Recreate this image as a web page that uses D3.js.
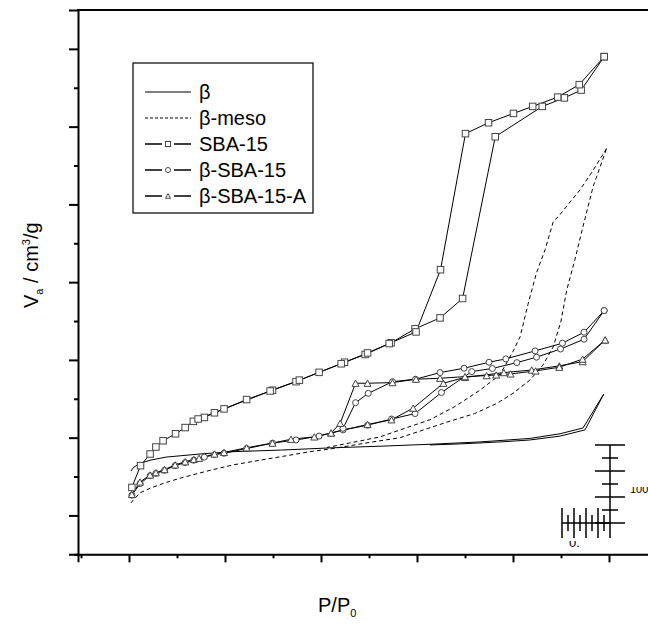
<!DOCTYPE html>
<html>
<head>
<meta charset="utf-8">
<title>Isotherms</title>
<style>
  body { margin: 0; background: #fff; }
  text { font-family: "Liberation Sans", Arial, sans-serif; fill: #000; }
</style>
</head>
<body>
<svg width="648" height="628"></svg>
<script src="https://cdn.jsdelivr.net/npm/d3@7"></script>
<script>
// P/P0 vs adsorbed volume: [P/P0, V]
const betaAds = [[0.004,57],[0.010,62],[0.023,67],[0.044,71],[0.077,75],[0.148,79],[0.217,82],[0.315,84],
  [0.425,87],[0.523,89],[0.627,91.5],[0.731,94.5],[0.835,99],[0.898,105],[0.946,112.5],[0.989,156]];
const betaDes = [[0.989,156],[0.950,110],[0.898,102],[0.835,97],[0.773,94.5],[0.690,92],[0.627,90.6]];

const mesoAds = [[0.004,16],[0.010,20.5],[0.023,29],[0.044,35],[0.075,42],[0.113,49],[0.169,58],[0.217,65],
  [0.273,71],[0.321,76],[0.377,82],[0.425,86],[0.492,93],[0.565,100],[0.6625,120],[0.72,131],[0.766,144],
  [0.80,157],[0.835,174],[0.862,193],[0.884,217],[0.90,250],[0.912,290],[0.929,329],[0.946,372],[0.967,423],[0.995,472]];
const mesoDes = [[0.995,472],[0.967,444],[0.940,419],[0.915,400],[0.894,384],[0.884,378],[0.867,342],[0.849,312],
  [0.831,271],[0.815,230],[0.80,211],[0.773,181],[0.731,161],[0.679,140],[0.627,123],[0.565,110],[0.523,101],
  [0.471,94.5],[0.4125,87.4]];

const sbaAds = [[0.006,36],[0.024,64],[0.044,79],[0.056,88],[0.071,96],[0.097,105],[0.117,113],[0.134,121],
  [0.157,126],[0.178,132],[0.198,137],[0.245,149],[0.299,161],[0.348,172],[0.396,184],[0.449,197],[0.492,207],
  [0.546,222],[0.596,240],[0.648,254],[0.695,279],[0.763,487],[0.861,526],[0.907,537],[0.942,547],[0.990,590]];
const sbaDes = [[0.990,590],[0.938,554],[0.893,538],[0.841,526],[0.801,517],[0.749,505],[0.701,491],[0.649,316],
  [0.598,236],[0.542,221],[0.497,209],[0.442,195],[0.355,174],[0.294,160],[0.144,124]];

const bsbaAds = [[0.006,26],[0.023,41],[0.044,51],[0.056,54],[0.074,58],[0.096,64],[0.117,68],[0.135,71],
  [0.157,75],[0.178,78],[0.198,80],[0.245,86],[0.299,93],[0.348,97],[0.396,102],[0.446,110],[0.497,116],
  [0.547,124],[0.596,131],[0.651,158],[0.714,185],[0.757,189],[0.808,196.5],[0.849,203.5],[0.899,214],
  [0.948,226.6],[0.990,263.4]];
const bsbaDes = [[0.990,263.4],[0.948,235.6],[0.903,221.5],[0.846,211.6],[0.785,201.3],[0.750,197],[0.698,189.3],
  [0.648,183.7],[0.597,175.2],[0.549,172],[0.4985,157],[0.472,145],[0.446,112]];

const bsbaAAds = [[0.006,27],[0.023,43],[0.044,52],[0.056,55],[0.074,59],[0.096,65],[0.117,69],[0.135,72],
  [0.146,73.5],[0.178,79],[0.198,81],[0.245,87],[0.299,93],[0.3375,98],[0.386,101],[0.421,106],[0.497,117],
  [0.547,123],[0.592,138],[0.655,170],[0.700,177.5],[0.781,183.7],[0.839,187],[0.8965,192.3],[0.945,197.8],[0.992,225.7]];
const bsbaADes = [[0.992,225.7],[0.945,201],[0.8965,190.6],[0.847,185.8],[0.795,182],[0.765,180.7],[0.745,179.8],
  [0.700,178.5],[0.648,176.4],[0.598,175.2],[0.549,170.8],[0.497,170],[0.472,170],[0.440,118.5],[0.421,106]];

const legendNames = ["\u03b2", "\u03b2-meso", "SBA-15", "\u03b2-SBA-15", "\u03b2-SBA-15-A"];
const xTitle = "P/P";
const yTitle = "V";

const svg = d3.select("svg");
const x = d3.scaleLinear().domain([-0.10625, 1.1]).range([78, 657]);
const y = d3.scaleLinear().domain([-50, 650]).range([554.3, 10]);

// axes
const gx = svg.append("g").attr("transform", `translate(0,${y(-50)})`);
gx.call(d3.axisBottom(x).tickValues(d3.range(0, 1.01, 0.2)).tickSize(8).tickFormat(""));
const gxm = svg.append("g").attr("transform", `translate(0,${y(-50)})`);
gxm.call(d3.axisBottom(x).tickValues(d3.range(-0.1, 1.0, 0.2)).tickSize(4).tickFormat(""));
const gy = svg.append("g").attr("transform", `translate(${x(-0.10625)},0)`);
gy.call(d3.axisLeft(y).tickValues(d3.range(0, 601, 100)).tickSize(9).tickFormat(""));
const gym = svg.append("g").attr("transform", `translate(${x(-0.10625)},0)`);
gym.call(d3.axisLeft(y).tickValues(d3.range(-50, 551, 100)).tickSize(4).tickFormat(""));
svg.selectAll(".domain").attr("stroke", "#000").attr("stroke-width", 2);
svg.selectAll(".tick line").attr("stroke", "#000").attr("stroke-width", 2);
gxm.select(".domain").remove();
gym.select(".domain").remove();
svg.append("line").attr("x1", x(-0.10625) - 1).attr("x2", 648).attr("y1", y(650)).attr("y2", y(650))
  .attr("stroke", "#000").attr("stroke-width", 2);

// titles
const xt = svg.append("text").attr("x", 318).attr("y", 612).attr("font-size", 20);
xt.append("tspan").text(xTitle);
xt.append("tspan").attr("font-size", 11).attr("dy", 5).text("0");
const yt = svg.append("text").attr("transform", "translate(38,308) rotate(-90)").attr("font-size", 20);
yt.append("tspan").text(yTitle);
yt.append("tspan").attr("font-size", 11).attr("dy", 5).text("a");
yt.append("tspan").attr("dy", -5).text(" / cm");
yt.append("tspan").attr("font-size", 11).attr("dy", -8).text("3");
yt.append("tspan").attr("dy", 8).text("/g");

const line = d3.line().x(d => x(d[0])).y(d => y(d[1]));

function drawLine(data, dash) {
  svg.append("path").datum(data).attr("d", line).attr("fill", "none")
    .attr("stroke", "#000").attr("stroke-width", 1).attr("stroke-dasharray", dash || null);
}
function marker(g, kind, cx, cy, s) {
  if (kind === "square") {
    g.append("rect").attr("x", cx - s / 2).attr("y", cy - s / 2).attr("width", s).attr("height", s);
  } else if (kind === "circle") {
    g.append("circle").attr("cx", cx).attr("cy", cy).attr("r", s / 2);
  } else {
    const h = s * 0.9;
    g.append("path").attr("d", `M${cx},${cy - h / 2}L${cx + s / 2},${cy + h / 2}L${cx - s / 2},${cy + h / 2}Z`);
  }
}
function drawMarkers(data, kind, s) {
  const g = svg.append("g").attr("fill", "#fff").attr("stroke", "#444").attr("stroke-width", 1);
  data.forEach(d => marker(g, kind, x(d[0]), y(d[1]), s));
}

drawLine(betaAds); drawLine(betaDes);
drawLine(mesoAds, "4,3"); drawLine(mesoDes, "4,3");
drawLine(sbaAds); drawLine(sbaDes);
drawLine(bsbaAds); drawLine(bsbaDes);
drawLine(bsbaAAds); drawLine(bsbaADes);
drawMarkers(sbaAds, "square", 6.5); drawMarkers(sbaDes, "square", 6.5);
drawMarkers(bsbaAds, "circle", 6); drawMarkers(bsbaDes, "circle", 6);
drawMarkers(bsbaAAds, "triangle", 7); drawMarkers(bsbaADes, "triangle", 7);

// legend
const lg = svg.append("g");
lg.append("rect").attr("x", 133).attr("y", 63).attr("width", 180).attr("height", 150)
  .attr("fill", "#fff").attr("stroke", "#000").attr("stroke-width", 1.2);
const kinds = [null, null, "square", "circle", "triangle"];
legendNames.forEach((name, i) => {
  const ly = 92 + i * 26;
  lg.append("line").attr("x1", 145).attr("x2", 191).attr("y1", ly).attr("y2", ly)
    .attr("stroke", "#000").attr("stroke-width", i < 2 ? 1 : 1.5).attr("stroke-dasharray", i === 1 ? "3,2" : null);
  if (kinds[i]) {
    const g = lg.append("g").attr("fill", "#fff").attr("stroke", "#444");
    g.append("rect").attr("x", 162).attr("y", ly - 5).attr("width", 12).attr("height", 10).attr("stroke", "none");
    marker(g, kinds[i], 168, ly, 5);
  }
  lg.append("text").attr("x", 199).attr("y", ly + 7).attr("font-size", 20).text(name);
});

// partly hidden inset scale in the lower right
const ins = svg.append("g").attr("stroke", "#000").attr("stroke-width", 1.5);
const insY = d3.range(0, 7).map(i => 445 + i * 13);
insY.forEach((yy, i) => {
  const w = i % 2 === 0 ? 15 : 8;
  ins.append("line").attr("x1", 610 - w).attr("x2", 610 + w).attr("y1", yy).attr("y2", yy);
});
ins.append("line").attr("x1", 610).attr("x2", 610).attr("y1", 445).attr("y2", 538);
ins.append("line").attr("x1", 562).attr("x2", 610).attr("y1", 523).attr("y2", 523);
d3.range(0, 8).forEach(i => {
  const xx = 562 + i * 6;
  const h = i % 2 === 0 ? 15 : 8;
  ins.append("line").attr("x1", xx).attr("x2", xx).attr("y1", 523 - h).attr("y2", 523 + h);
});
const defs = svg.append("defs");
defs.append("clipPath").attr("id", "c1").append("rect").attr("x", 625).attr("y", 487).attr("width", 30).attr("height", 8);
defs.append("clipPath").attr("id", "c2").append("rect").attr("x", 565).attr("y", 541).attr("width", 20).attr("height", 8);
svg.append("text").attr("x", 630).attr("y", 493).attr("font-size", 11).attr("clip-path", "url(#c1)").text("100");
svg.append("text").attr("x", 569).attr("y", 547).attr("font-size", 13).attr("clip-path", "url(#c2)").text("0.");
</script>
</body>
</html>
